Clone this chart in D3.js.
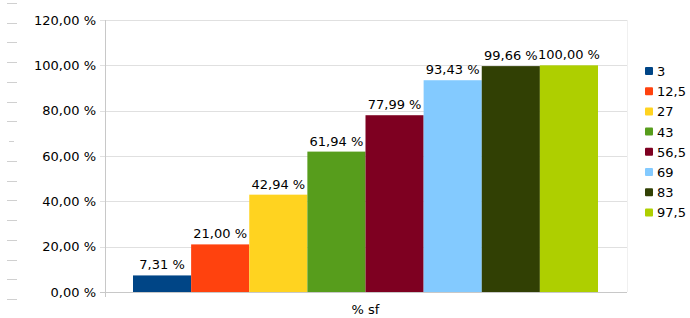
<!DOCTYPE html>
<html>
<head>
<meta charset="utf-8">
<script src="https://cdn.jsdelivr.net/npm/d3@7"></script>
<style>
  body { margin: 0; background: #fff; }
  text { font-family: "DejaVu Sans", sans-serif; fill: #000; }
</style>
</head>
<body>
<div id="chart"></div>
<script>
// data
const categories = ["3", "12,5", "27", "43", "56,5", "69", "83", "97,5"]
const values = [7.31, 21.00, 42.94, 61.94, 77.99, 93.43, 99.66, 100.00]
const colors = ["#004586", "#ff420e", "#ffd320", "#579d1c", "#7e0021", "#83caff", "#314004", "#aecf00"]
const yTicks = [0, 20, 40, 60, 80, 100, 120]
const xLabel = "% sf"

const width = 690
const height = 318
const margin = {top: 20, bottom: 26, left: 105, right: 63}

const fmt = v => d3.format(".2f")(v).replace(".", ",") + " %"

const svg = d3.select("div#chart").append("svg").attr("width", width).attr("height", height)

const x = d3.scaleBand().domain(categories)
    .range([margin.left + 28, width - margin.right - 29]).paddingInner(0)
const y = d3.scaleLinear().domain([0, 120]).range([height - margin.bottom, margin.top])

// stray minor dashes on the far left
const dash = d3.scaleLinear().domain([0, 15]).range([3, 299])
svg.append("g").selectAll("line").data(d3.range(16)).enter().append("line")
    .attr("x1", d => d === 7 ? 9 : 7).attr("x2", d => d === 7 ? 14 : 17)
    .attr("y1", d => Math.round(dash(d)) + 0.5).attr("y2", d => Math.round(dash(d)) + 0.5)
    .attr("stroke", "#d0d0d0")

// grid
const grid = svg.append("g")
grid.selectAll("line").data(yTicks).enter().append("line")
    .attr("x1", margin.left - 5).attr("x2", width - margin.right)
    .attr("y1", d => Math.round(y(d)) + 0.5).attr("y2", d => Math.round(y(d)) + 0.5)
    .attr("stroke", d => d === 0 ? "#c8c8c8" : "#e0e0e0")
grid.append("line")
    .attr("x1", margin.left + 0.5).attr("x2", margin.left + 0.5)
    .attr("y1", y(120)).attr("y2", y(0) + 5)
    .attr("stroke", "#c8c8c8")
grid.append("line")
    .attr("x1", width - margin.right + 0.5).attr("x2", width - margin.right + 0.5)
    .attr("y1", y(120)).attr("y2", y(0))
    .attr("stroke", "#f0f0f0")

// y labels
svg.append("g").selectAll("text").data(yTicks).enter().append("text")
    .attr("x", margin.left - 9).attr("y", d => y(d) + 4.5)
    .attr("text-anchor", "end").style("font-size", "13px")
    .text(d => fmt(d))

// bars
const rows = categories.map((c, i) => ({cat: c, value: values[i], color: colors[i]}))
svg.append("g").selectAll("rect").data(rows).enter().append("rect")
    .attr("x", d => x(d.cat)).attr("width", x.bandwidth())
    .attr("y", d => y(d.value)).attr("height", d => y(0) - y(d.value))
    .attr("fill", d => d.color)

svg.append("g").selectAll("text").data(rows).enter().append("text")
    .attr("x", d => x(d.cat) + x.bandwidth() / 2).attr("y", d => y(d.value) - 6)
    .attr("text-anchor", "middle").style("font-size", "13px")
    .text(d => fmt(d.value))

// x label
svg.append("text")
    .attr("x", (x.range()[0] + x.range()[1]) / 2).attr("y", height - 4)
    .attr("text-anchor", "middle").style("font-size", "13px")
    .text(xLabel)

// legend
const legend = svg.append("g").attr("transform", "translate(645, 67)")
const item = legend.selectAll("g").data(rows).enter().append("g")
    .attr("transform", (d, i) => `translate(0, ${i * 20.2})`)
item.append("rect").attr("width", 8).attr("height", 8).attr("rx", 1).attr("fill", d => d.color)
item.append("text").attr("x", 12).attr("y", 9).style("font-size", "13px").text(d => d.cat)
</script>
</body>
</html>
